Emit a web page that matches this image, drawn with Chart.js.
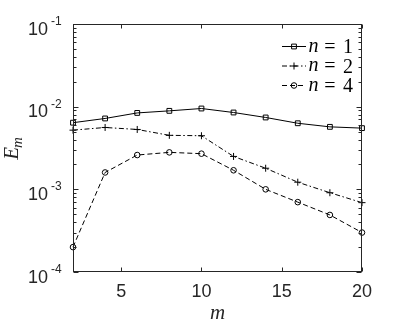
<!DOCTYPE html>
<html><head><meta charset="utf-8">
<title>E_m vs m</title>
<script src="https://cdn.jsdelivr.net/npm/chart.js"></script>
<style>
  html, body { margin: 0; padding: 0; background: #ffffff; }
  #wrap { width: 399px; height: 327px; }
</style>
</head>
<body>
<div id="wrap"><canvas id="chart" width="399" height="327"></canvas></div>
<script>
// values
const mValues = [2, 4, 6, 8, 10, 12, 14, 16, 18, 20];
const errN1 = [0.0064, 0.0072, 0.0084, 0.0089, 0.0095, 0.0085, 0.0074, 0.0063, 0.0057, 0.0055];
const errN2 = [0.0052, 0.0056, 0.0053, 0.0045, 0.00445, 0.0025, 0.0018, 0.00122, 0.00091, 0.00069];
const errN4 = [0.0002, 0.0016, 0.0026, 0.0028, 0.0027, 0.0017, 0.001, 0.0007, 0.00049, 0.0003];
const nLabels = ['1', '2', '4'];
const xTicks = [5, 10, 15, 20];
const yExponents = [-4, -3, -2, -1];

const ink = '#262626';
const styles = [
  { dash: [], point: 'rect', radius: 3.4 },
  { dash: [5, 2.5, 1.5, 2.5], point: 'cross', radius: 3.5 },
  { dash: [5, 3], point: 'circle', radius: 2.8 }
];

function makeSet(data, i) {
  return {
    label: 'n = ' + nLabels[i],
    data: data.map((v, j) => ({ x: mValues[j], y: v })),
    borderColor: '#000',
    borderWidth: 1,
    borderDash: styles[i].dash,
    pointStyle: styles[i].point,
    pointRadius: styles[i].radius,
    pointBorderWidth: 1,
    pointBorderColor: '#000',
    pointBackgroundColor: 'rgba(0,0,0,0)',
    tension: 0,
    clip: false
  };
}

// axes box, inward ticks, tick labels, titles and legend in the MATLAB look
const decor = {
  id: 'decor',
  afterDraw(chart) {
    const ctx = chart.ctx;
    const a = chart.chartArea;
    const xs = chart.scales.x, ys = chart.scales.y;
    ctx.save();
    ctx.strokeStyle = ink;
    ctx.lineWidth = 1;
    ctx.setLineDash([]);
    const L = Math.round(a.left) + 0.5, R = Math.round(a.right) - 0.5;
    const T = Math.round(a.top) + 0.5, B = Math.round(a.bottom) - 0.5;
    ctx.strokeRect(L, T, R - L, B - T);

    ctx.beginPath();
    xTicks.forEach(v => {
      const px = Math.round(xs.getPixelForValue(v)) + 0.5;
      ctx.moveTo(px, B); ctx.lineTo(px, B - 4);
      ctx.moveTo(px, T); ctx.lineTo(px, T + 4);
    });
    yExponents.forEach(e => {
      const py = Math.round(ys.getPixelForValue(Math.pow(10, e))) + 0.5;
      ctx.moveTo(L, py); ctx.lineTo(L + 5, py);
      ctx.moveTo(R, py); ctx.lineTo(R - 5, py);
      if (e < -1) {
        for (let k = 2; k <= 9; k++) {
          const pm = Math.round(ys.getPixelForValue(k * Math.pow(10, e))) + 0.5;
          ctx.moveTo(L, pm); ctx.lineTo(L + 3, pm);
          ctx.moveTo(R, pm); ctx.lineTo(R - 3, pm);
        }
      }
    });
    ctx.stroke();

    // tick labels
    ctx.fillStyle = ink;
    ctx.textBaseline = 'alphabetic';
    ctx.font = '18px "Liberation Sans", Arial, sans-serif';
    ctx.textAlign = 'center';
    xTicks.forEach(v => {
      ctx.fillText(String(v), xs.getPixelForValue(v), a.bottom + 25);
    });
    yExponents.forEach(e => {
      const py = ys.getPixelForValue(Math.pow(10, e));
      ctx.textAlign = 'left';
      ctx.font = '18px "Liberation Sans", Arial, sans-serif';
      ctx.fillText('10', 28, py + 10.5);
      ctx.font = '12px "Liberation Sans", Arial, sans-serif';
      ctx.fillText(String(e), 51, py + 1);
    });

    // axis titles
    ctx.textAlign = 'center';
    ctx.font = 'italic 21px "Liberation Serif", "DejaVu Serif", serif';
    ctx.fillText('m', (a.left + a.right) / 2, a.bottom + 47);
    ctx.save();
    ctx.translate(18, (a.top + a.bottom) / 2);
    ctx.rotate(-Math.PI / 2);
    ctx.textAlign = 'left';
    ctx.font = 'italic 21px "Liberation Serif", "DejaVu Serif", serif';
    const wE = ctx.measureText('E').width;
    ctx.font = 'italic 15px "Liberation Serif", "DejaVu Serif", serif';
    const wM = ctx.measureText('m').width;
    const x0 = -(wE + wM) / 2;
    ctx.font = 'italic 21px "Liberation Serif", "DejaVu Serif", serif';
    ctx.fillText('E', x0, 0);
    ctx.font = 'italic 15px "Liberation Serif", "DejaVu Serif", serif';
    ctx.fillText('m', x0 + wE - 1, 4);
    ctx.restore();

    // legend
    chart.data.datasets.forEach((ds, i) => {
      const y = 46.5 + 19.5 * i;
      ctx.strokeStyle = '#000';
      ctx.lineWidth = 1;
      ctx.setLineDash(ds.borderDash);
      ctx.beginPath();
      ctx.moveTo(282, y); ctx.lineTo(306, y);
      ctx.stroke();
      ctx.setLineDash([]);
      ctx.fillStyle = 'rgba(0,0,0,0)';
      Chart.helpers.drawPoint(ctx, {
        pointStyle: ds.pointStyle, radius: ds.pointRadius, borderWidth: 1, rotation: 0
      }, 294, y);
      ctx.fillStyle = '#000';
      ctx.textAlign = 'center';
      ctx.font = 'italic 20px "Liberation Serif", "DejaVu Serif", serif';
      ctx.fillText('n', 313.5, y + 5);
      ctx.font = '20px "Liberation Serif", "DejaVu Serif", serif';
      ctx.fillText('=', 330, y + 6);
      ctx.fillText(nLabels[i], 348, y + 6.5);
    });
    ctx.restore();
  }
};

new Chart(document.getElementById('chart'), {
  type: 'line',
  data: {
    datasets: [makeSet(errN1, 0), makeSet(errN2, 1), makeSet(errN4, 2)]
  },
  options: {
    responsive: false,
    devicePixelRatio: 1,
    animation: false,
    layout: { padding: { left: 73, right: 37, top: 24, bottom: 55 } },
    scales: {
      x: { type: 'linear', min: 2, max: 20, display: false },
      y: { type: 'logarithmic', min: 1e-4, max: 1e-1, display: false }
    },
    plugins: { legend: { display: false }, tooltip: { enabled: false } }
  },
  plugins: [decor]
});
</script>
</body></html>
